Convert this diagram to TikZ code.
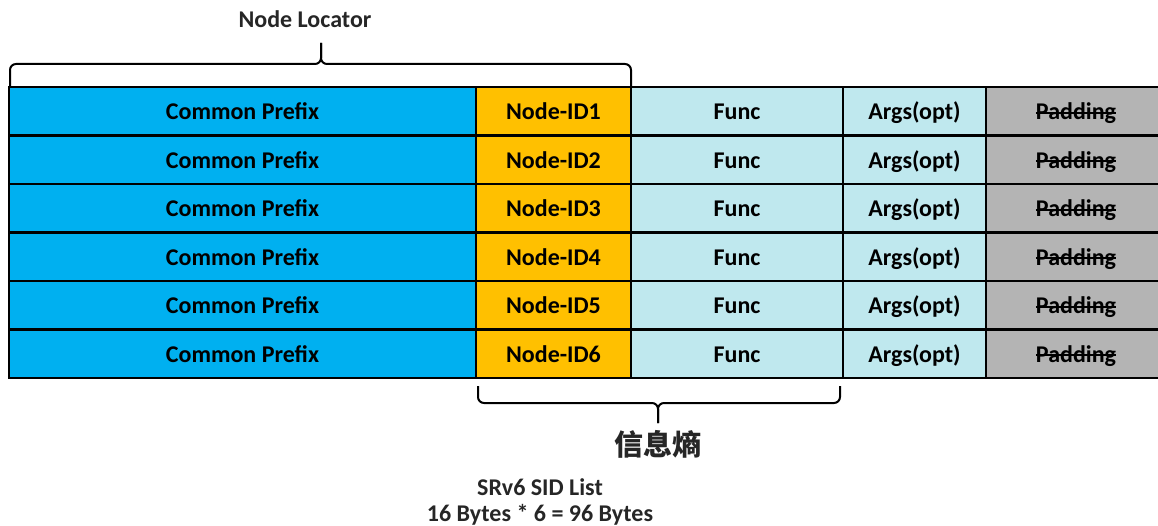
\documentclass[tikz,border=0pt]{standalone}
\usepackage{fontspec}
\setmainfont{Carlito}
\newfontfamily\cjk{Noto Sans CJK SC}
\definecolor{prefixblue}{HTML}{00B0F0}
\definecolor{nodeorange}{HTML}{FFC000}
\definecolor{funcaqua}{HTML}{BFE8EE}
\definecolor{padgray}{HTML}{B4B4B4}
\definecolor{labelgray}{HTML}{262626}
\newsavebox\strikebox
\newcommand\struck[1]{\leavevmode\sbox\strikebox{#1}\rlap{\rule[0.24em]{\wd\strikebox}{0.08em}}\usebox\strikebox}
\begin{document}
\begin{tikzpicture}[x=1pt,y=-1pt,
  cell/.style={draw=black,line width=2.5pt,rectangle,anchor=north west,
    minimum height=48.5pt,inner sep=0pt,outer sep=0pt,
    text height=17pt,text depth=0.4pt,
    font=\fontsize{24}{28}\selectfont\bfseries,text=black},
  bracepath/.style={draw=black,line width=2pt,rounded corners=6pt},
  caption/.style={font=\fontsize{24}{28}\selectfont\bfseries,text=labelgray,inner sep=0pt}]
\useasboundingbox (0,0) rectangle (1158,526);

% six SIDs, one per row
\foreach \i in {1,...,6} {
  \pgfmathsetmacro\rowtop{87+48.5*(\i-1)}
  \node[cell,fill=padgray,minimum width=180pt] (pad\i) at (986,\rowtop) {\struck{Padding}};
  \node[cell,fill=funcaqua,minimum width=143pt] (args\i) at (843,\rowtop) {Args(opt)};
  \node[cell,fill=funcaqua,minimum width=212pt] (func\i) at (631,\rowtop) {Func};
  \node[cell,fill=nodeorange,minimum width=155pt] (nid\i) at (476,\rowtop) {Node-ID\i};
  \node[cell,fill=prefixblue,minimum width=467pt] (cp\i) at (9,\rowtop) {Common Prefix};
}

% brace over the locator part
\draw[bracepath] (10,86) -- (10,64) -- (321,64) -- (321,43);
\draw[bracepath] (321,43) -- (321,64) -- (631,64) -- (631,86);
\node[caption] (locator) at (305,19) {Node Locator};

% brace under the node-id and function part
\draw[bracepath] (478,386) -- (478,403) -- (658,403) -- (658,423);
\draw[bracepath] (658,423) -- (658,403) -- (840,403) -- (840,386);
\node[inner sep=0pt,text=labelgray,font=\cjk\bfseries\fontsize{29}{32}\selectfont] (entropy) at (658,444) {信息熵};

\node[caption] (sidlist) at (540,487) {SRv6 SID List};
\node[caption] (sidsize) at (540,515) {16 Bytes * 6 = 96 Bytes};
\end{tikzpicture}
\end{document}
